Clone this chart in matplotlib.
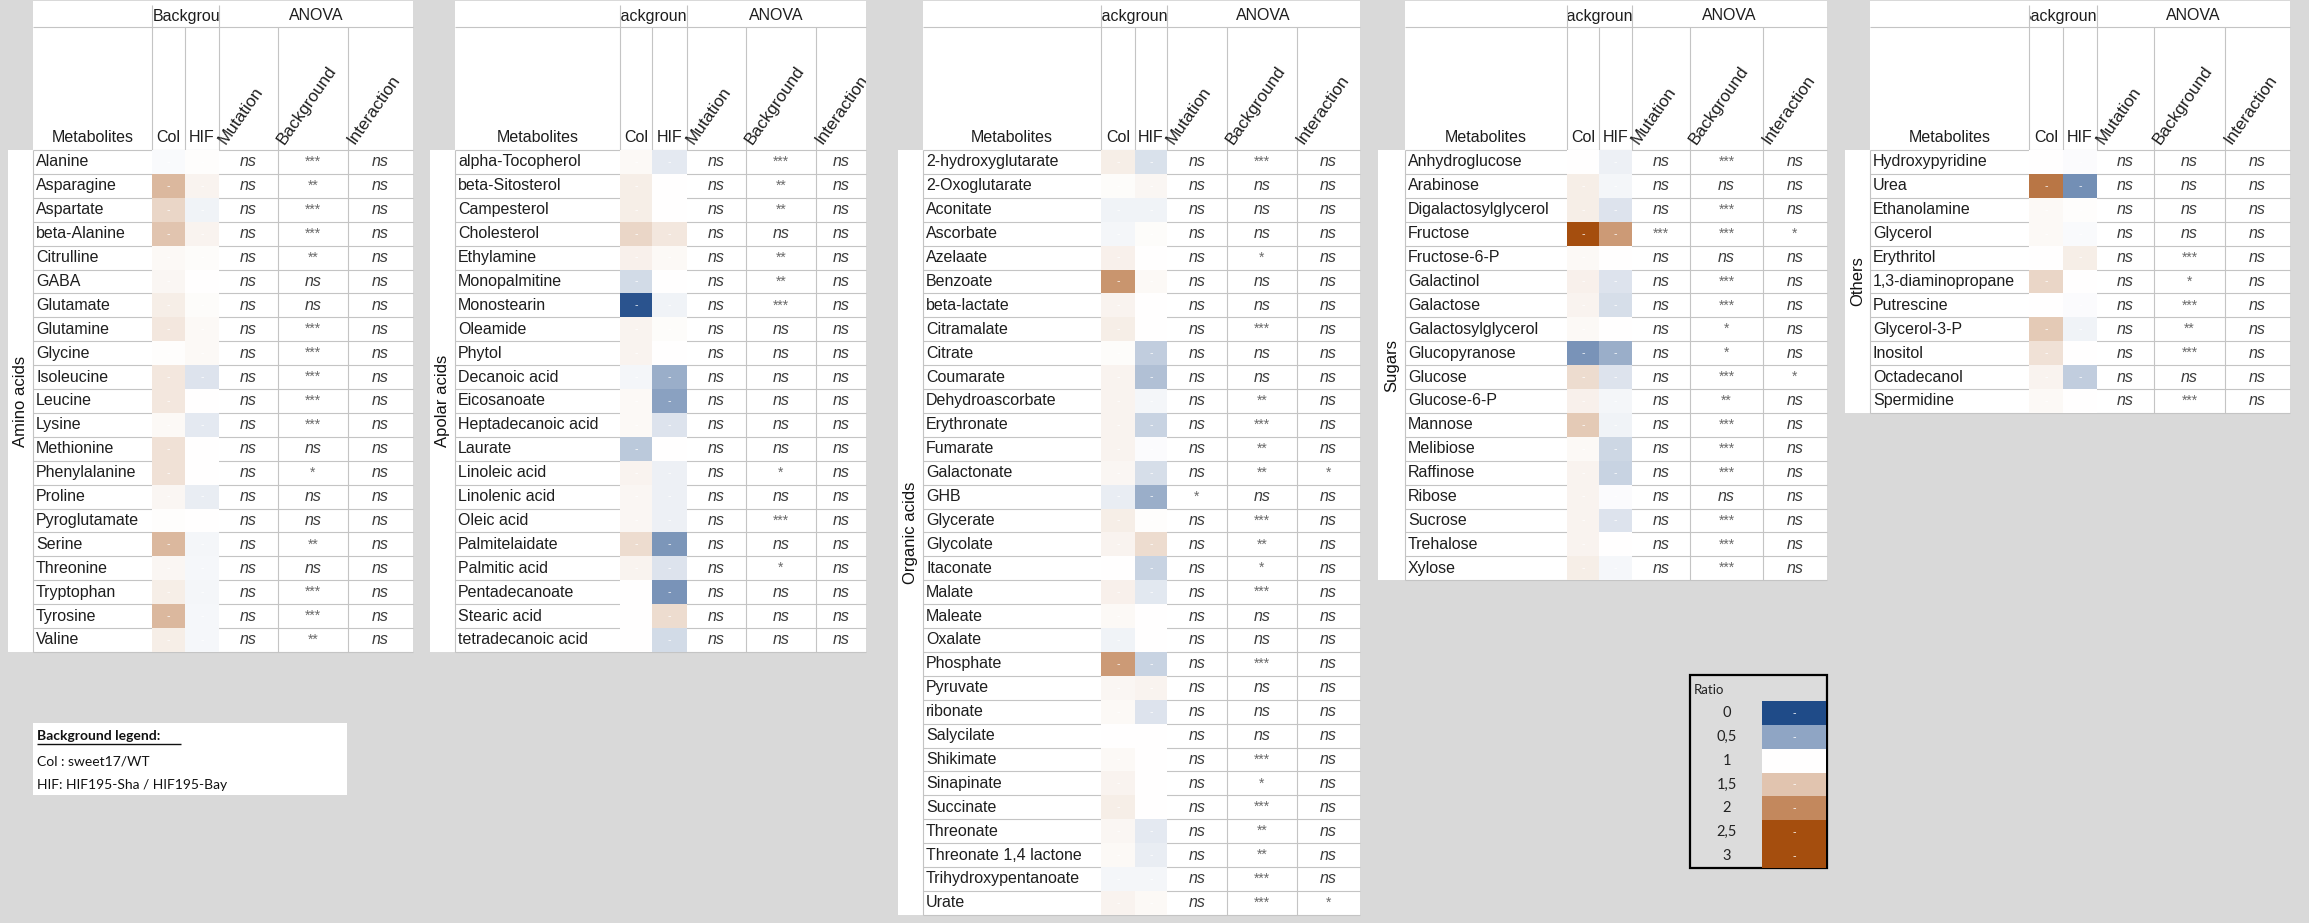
import matplotlib
matplotlib.use("Agg")
import matplotlib.pyplot as plt
import numpy as np
from matplotlib.colors import LinearSegmentedColormap, TwoSlopeNorm
from matplotlib.patches import Rectangle
from matplotlib.transforms import Bbox, TransformedBbox

# ---------------------------------------------------------------- data
amino_names = ["Alanine", "Asparagine", "Aspartate", "beta-Alanine", "Citrulline", "GABA",
               "Glutamate", "Glutamine", "Glycine", "Isoleucine", "Leucine", "Lysine",
               "Methionine", "Phenylalanine", "Proline", "Pyroglutamate", "Serine",
               "Threonine", "Tryptophan", "Tyrosine", "Valine"]
amino_col = [0.97, 1.6, 1.35, 1.5, 1.05, 1.08, 1.15, 1.2, 1.02, 1.2, 1.2, 1.05, 1.25, 1.25,
             1.08, 1.02, 1.6, 1.08, 1.15, 1.6, 1.15]
amino_hif = [1.02, 1.1, 0.93, 1.1, 1.03, 1.0, 1.03, 1.05, 1.05, 0.85, 1.0, 0.88, 1.0, 1.0,
             0.9, 1.0, 0.95, 0.96, 0.95, 0.96, 0.96]
amino_mutation = ["ns", "ns", "ns", "ns", "ns", "ns", "ns", "ns", "ns", "ns", "ns", "ns",
                  "ns", "ns", "ns", "ns", "ns", "ns", "ns", "ns", "ns"]
amino_background = ["***", "**", "***", "***", "**", "ns", "ns", "***", "***", "***", "***",
                    "***", "ns", "*", "ns", "ns", "**", "ns", "***", "***", "**"]
amino_interaction = ["ns", "ns", "ns", "ns", "ns", "ns", "ns", "ns", "ns", "ns", "ns", "ns",
                     "ns", "ns", "ns", "ns", "ns", "ns", "ns", "ns", "ns"]

apolar_names = ["alpha-Tocopherol", "beta-Sitosterol", "Campesterol", "Cholesterol",
                "Ethylamine", "Monopalmitine", "Monostearin", "Oleamide", "Phytol",
                "Decanoic acid", "Eicosanoate", "Heptadecanoic acid", "Laurate",
                "Linoleic acid", "Linolenic acid", "Oleic acid", "Palmitelaidate",
                "Palmitic acid", "Pentadecanoate", "Stearic acid", "tetradecanoic acid"]
apolar_col = [1.05, 1.15, 1.15, 1.35, 1.12, 0.8, 0.05, 1.1, 1.1, 0.95, 1.05, 1.05, 0.7,
              1.1, 1.08, 1.08, 1.3, 1.1, 1.0, 1.0, 1.0]
apolar_hif = [0.88, 1.0, 1.0, 1.2, 1.05, 1.0, 0.93, 1.03, 1.0, 0.55, 0.48, 0.85, 1.0,
              0.92, 0.92, 0.92, 0.42, 0.85, 0.4, 1.3, 0.8]
apolar_mutation = ["ns", "ns", "ns", "ns", "ns", "ns", "ns", "ns", "ns", "ns", "ns", "ns",
                   "ns", "ns", "ns", "ns", "ns", "ns", "ns", "ns", "ns"]
apolar_background = ["***", "**", "**", "ns", "**", "**", "***", "ns", "ns", "ns", "ns", "ns",
                     "ns", "*", "ns", "***", "ns", "*", "ns", "ns", "ns"]
apolar_interaction = ["ns", "ns", "ns", "ns", "ns", "ns", "ns", "ns", "ns", "ns", "ns", "ns",
                      "ns", "ns", "ns", "ns", "ns", "ns", "ns", "ns", "ns"]

organic_names = ["2-hydroxyglutarate", "2-Oxoglutarate", "Aconitate", "Ascorbate", "Azelaate",
                 "Benzoate", "beta-lactate", "Citramalate", "Citrate", "Coumarate",
                 "Dehydroascorbate", "Erythronate", "Fumarate", "Galactonate", "GHB",
                 "Glycerate", "Glycolate", "Itaconate", "Malate", "Maleate", "Oxalate",
                 "Phosphate", "Pyruvate", "ribonate", "Salycilate", "Shikimate",
                 "Sinapinate", "Succinate", "Threonate", "Threonate 1,4 lactone",
                 "Trihydroxypentanoate", "Urate"]
organic_col = [1.15, 1.03, 0.93, 0.95, 1.12, 1.9, 1.1, 1.15, 1.03, 1.1, 1.1, 1.1, 1.1,
               1.08, 0.9, 1.15, 1.1, 1.0, 1.12, 1.05, 0.93, 1.85, 1.08, 1.05, 1.0, 1.05,
               1.1, 1.15, 1.08, 1.05, 0.95, 1.1]
organic_hif = [0.83, 1.08, 0.93, 1.03, 1.0, 1.05, 1.0, 1.0, 0.72, 0.65, 0.95, 0.75, 0.98,
               0.82, 0.55, 1.02, 1.3, 0.75, 0.87, 1.0, 1.0, 0.75, 1.1, 0.85, 1.0, 1.0,
               1.0, 1.0, 0.88, 0.9, 0.95, 1.05]
organic_mutation = ["ns", "ns", "ns", "ns", "ns", "ns", "ns", "ns", "ns", "ns", "ns", "ns",
                    "ns", "ns", "*", "ns", "ns", "ns", "ns", "ns", "ns", "ns", "ns", "ns",
                    "ns", "ns", "ns", "ns", "ns", "ns", "ns", "ns"]
organic_background = ["***", "ns", "ns", "ns", "*", "ns", "ns", "***", "ns", "ns", "**", "***",
                      "**", "**", "ns", "***", "**", "*", "***", "ns", "ns", "***", "ns", "ns",
                      "ns", "***", "*", "***", "**", "**", "***", "***"]
organic_interaction = ["ns", "ns", "ns", "ns", "ns", "ns", "ns", "ns", "ns", "ns", "ns", "ns",
                       "ns", "*", "ns", "ns", "ns", "ns", "ns", "ns", "ns", "ns", "ns", "ns",
                       "ns", "ns", "ns", "ns", "ns", "ns", "ns", "*"]

sugar_names = ["Anhydroglucose", "Arabinose", "Digalactosylglycerol", "Fructose",
               "Fructose-6-P", "Galactinol", "Galactose", "Galactosylglycerol",
               "Glucopyranose", "Glucose", "Glucose-6-P", "Mannose", "Melibiose",
               "Raffinose", "Ribose", "Sucrose", "Trehalose", "Xylose"]
sugar_col = [1.0, 1.15, 1.15, 2.5, 1.05, 1.12, 1.1, 1.05, 0.4, 1.3, 1.12, 1.45, 1.05, 1.1,
             1.1, 1.1, 1.1, 1.15]
sugar_hif = [0.92, 0.95, 0.85, 1.85, 1.0, 0.85, 0.82, 1.0, 0.55, 0.85, 0.95, 0.93, 0.78,
             0.75, 0.98, 0.85, 1.0, 0.96]
sugar_mutation = ["ns", "ns", "ns", "***", "ns", "ns", "ns", "ns", "ns", "ns", "ns", "ns",
                  "ns", "ns", "ns", "ns", "ns", "ns"]
sugar_background = ["***", "ns", "***", "***", "ns", "***", "***", "*", "*", "***", "**",
                    "***", "***", "***", "ns", "***", "***", "***"]
sugar_interaction = ["ns", "ns", "ns", "*", "ns", "ns", "ns", "ns", "ns", "*", "ns", "ns",
                     "ns", "ns", "ns", "ns", "ns", "ns"]

other_names = ["Hydroxypyridine", "Urea", "Ethanolamine", "Glycerol", "Erythritol",
               "1,3-diaminopropane", "Putrescine", "Glycerol-3-P", "Inositol",
               "Octadecanol", "Spermidine"]
other_col = [1.0, 2.15, 1.05, 1.05, 1.0, 1.35, 1.0, 1.45, 1.25, 1.1, 1.05]
other_hif = [0.98, 0.38, 1.02, 0.97, 1.15, 1.0, 0.98, 0.93, 1.0, 0.72, 1.0]
other_mutation = ["ns", "ns", "ns", "ns", "ns", "ns", "ns", "ns", "ns", "ns", "ns"]
other_background = ["ns", "ns", "ns", "ns", "***", "*", "***", "**", "***", "ns", "***"]
other_interaction = ["ns", "ns", "ns", "ns", "ns", "ns", "ns", "ns", "ns", "ns", "ns"]

legend_values = [0, 0.5, 1, 1.5, 2, 2.5, 3]
legend_labels = ["0", "0,5", "1", "1,5", "2", "2,5", "3"]

# ---------------------------------------------------------------- style
W, H = 2309, 923
PAGE = "#d9d9d9"
GRID = "#c4c4c4"
TXT = "#1e1e1e"
FONT = "Liberation Sans"
FS = 11.5
ROW_H = 23.9
Y_TOP, Y_H1, Y_H2 = 1, 27, 150

cmap = LinearSegmentedColormap.from_list(
    "ratio", [(0.0, "#1f4b88"), (0.5, "#ffffff"), (1.0, "#a54e0e")])
norm = TwoSlopeNorm(vmin=0, vcenter=1, vmax=2.5)

fig = plt.figure(figsize=(W / 100, H / 100), dpi=100)
fig.patch.set_facecolor(PAGE)
ax = fig.add_axes([0, 0, 1, 1])
ax.set_xlim(0, W)
ax.set_ylim(H, 0)
ax.axis("off")

# column edges: strip, names, Col, HIF, Mutation, Background, Interaction, right
panels = [
    dict(label="Amino acids", names=amino_names, col=amino_col, hif=amino_hif,
         mut=amino_mutation, bgd=amino_background, inter=amino_interaction,
         edges=[8, 33, 152, 185, 219, 278, 348, 413], head_align="left"),
    dict(label="Apolar acids", names=apolar_names, col=apolar_col, hif=apolar_hif,
         mut=apolar_mutation, bgd=apolar_background, inter=apolar_interaction,
         edges=[430, 455, 620, 652, 687, 746, 816, 866], head_align="center"),
    dict(label="Organic acids", names=organic_names, col=organic_col, hif=organic_hif,
         mut=organic_mutation, bgd=organic_background, inter=organic_interaction,
         edges=[898, 923, 1101, 1135, 1167, 1227, 1297, 1360], head_align="center"),
    dict(label="Sugars", names=sugar_names, col=sugar_col, hif=sugar_hif,
         mut=sugar_mutation, bgd=sugar_background, inter=sugar_interaction,
         edges=[1378, 1405, 1567, 1599, 1632, 1690, 1763, 1827], head_align="center"),
    dict(label="Others", names=other_names, col=other_col, hif=other_hif,
         mut=other_mutation, bgd=other_background, inter=other_interaction,
         edges=[1845, 1870, 2029, 2063, 2097, 2154, 2225, 2290], head_align="center"),
]


def sig_text(x, y, s):
    if s == "ns":
        ax.text(x, y, s, ha="center", va="center", fontsize=FS, style="italic",
                color="#3c3c3c", family=FONT, zorder=5)
    else:
        ax.text(x, y, s, ha="center", va="center", fontsize=FS - 1.5,
                color="#6a6a6a", family=FONT, zorder=5)


def draw_panel(p):
    e = p["edges"]
    n = len(p["names"])
    yedges = Y_H2 + ROW_H * np.arange(n + 1)
    ybot = yedges[-1]
    yc = 0.5 * (yedges[:-1] + yedges[1:])

    # white table body and category strip
    ax.add_patch(Rectangle((e[1], Y_TOP), e[7] - e[1], ybot - Y_TOP,
                           fc="white", ec="none", zorder=1))
    ax.add_patch(Rectangle((e[0], Y_H2), e[1] - e[0], ybot - Y_H2,
                           fc="white", ec="none", zorder=1))

    # grid lines
    ax.hlines(yedges, e[1], e[7], color=GRID, lw=0.8, zorder=2)
    ax.hlines([Y_H1], e[1], e[7], color=GRID, lw=0.8, zorder=2)
    ax.vlines([e[2], e[4]], Y_TOP + 4, Y_H1, color=GRID, lw=0.8, zorder=2)
    ax.vlines(e[2:7], Y_H1, Y_H2, color=GRID, lw=0.8, zorder=2)
    ax.vlines([e[1], e[5], e[6]], Y_H2, ybot, color=GRID, lw=0.8, zorder=2)

    # ratio cells
    vals = np.column_stack([p["col"], p["hif"]])
    ax.pcolormesh([e[2], e[3], e[4]], yedges, vals, cmap=cmap, norm=norm,
                  shading="flat", zorder=3)
    for i in range(n):
        for xc in (0.5 * (e[2] + e[3]), 0.5 * (e[3] + e[4])):
            ax.text(xc, yc[i], "-", ha="center", va="center", fontsize=7,
                    color="white", alpha=0.85, zorder=4)

    table_box = TransformedBbox(Bbox([[e[1], Y_TOP], [e[7], ybot]]), ax.transData)

    # row text
    for i, name in enumerate(p["names"]):
        ax.text(e[1] + 3, yc[i], name, ha="left", va="center", fontsize=FS,
                color=TXT, family=FONT, zorder=5)
        sig_text(0.5 * (e[4] + e[5]), yc[i], p["mut"][i])
        sig_text(0.5 * (e[5] + e[6]), yc[i], p["bgd"][i])
        sig_text(0.5 * (e[6] + e[7]), yc[i], p["inter"][i])

    # header row 1 (the group title is cut to its two columns)
    head_box = TransformedBbox(Bbox([[e[2] + 0.5, Y_TOP], [e[4] - 0.5, Y_H1]]), ax.transData)
    if p["head_align"] == "left":
        t = ax.text(e[2] + 1, 16, "Background", ha="left", va="center", fontsize=FS,
                    color=TXT, family=FONT, zorder=5)
    else:
        t = ax.text(0.5 * (e[2] + e[4]), 16, "Background", ha="center", va="center",
                    fontsize=FS, color=TXT, family=FONT, zorder=5)
    t.set_clip_box(head_box)
    t.set_clip_on(True)
    ax.text(0.5 * (e[4] + e[7]), 16, "ANOVA", ha="center", va="center", fontsize=FS,
            color=TXT, family=FONT, zorder=5)

    # header row 2
    ax.text(0.5 * (e[1] + e[2]), 138, "Metabolites", ha="center", va="center",
            fontsize=FS, color=TXT, family=FONT, zorder=5)
    ax.text(0.5 * (e[2] + e[3]), 138, "Col", ha="center", va="center",
            fontsize=FS, color=TXT, family=FONT, zorder=5)
    ax.text(0.5 * (e[3] + e[4]), 138, "HIF", ha="center", va="center",
            fontsize=FS, color=TXT, family=FONT, zorder=5)
    for k, lab in zip((4, 5, 6), ("Mutation", "Background", "Interaction")):
        t = ax.text(e[k] + 9, 147, lab, ha="left", va="bottom", rotation=55,
                    rotation_mode="anchor", fontsize=12.3, color=TXT, family=FONT,
                    zorder=5)
        t.set_clip_box(table_box)
        t.set_clip_on(True)

    # category label
    ax.text(0.5 * (e[0] + e[1]), 0.5 * (Y_H2 + ybot), p["label"], rotation=90,
            ha="center", va="center", fontsize=12, color="#111111",
            family=FONT, zorder=5)


for p in panels:
    draw_panel(p)

# ---------------------------------------------------------------- background legend
ax.add_patch(Rectangle((33, 723), 314, 72, fc="white", ec="none", zorder=1))
ax.text(37, 736, "Background legend:", ha="left", va="center", fontsize=10,
        color="#111111", family="Lato", fontweight="bold", zorder=5)
ax.hlines(744, 37, 181, color="#111111", lw=1.0, zorder=5)
ax.text(37, 761, "Col : sweet17/WT", ha="left", va="center", fontsize=10,
        color="#111111", family="Lato", zorder=5)
ax.text(37, 785, "HIF: HIF195-Sha / HIF195-Bay", ha="left", va="center", fontsize=10,
        color="#111111", family="Lato", zorder=5)

# ---------------------------------------------------------------- ratio legend
ax.add_patch(Rectangle((1690, 675), 137, 193, fc="#dcdcdc", ec="black", lw=1.6, zorder=2))
ax.text(1694, 690, "Ratio", ha="left", va="center", fontsize=9.5, color="#222222",
        family="Lato", zorder=5)
leg_edges = 701 + 23.85 * np.arange(len(legend_values) + 1)
ax.pcolormesh([1762, 1826], leg_edges, np.array(legend_values, dtype=float)[:, None],
              cmap=cmap, norm=norm, shading="flat", zorder=3)
for i, lab in enumerate(legend_labels):
    yy = 0.5 * (leg_edges[i] + leg_edges[i + 1])
    ax.text(1727, yy, lab, ha="center", va="center", fontsize=10.5, color="#222222",
            family="Lato", zorder=5)
    ax.text(1794, yy, "-", ha="center", va="center", fontsize=7, color="white",
            alpha=0.9, zorder=4)

fig.savefig("out.png", dpi=100, facecolor=fig.get_facecolor())
